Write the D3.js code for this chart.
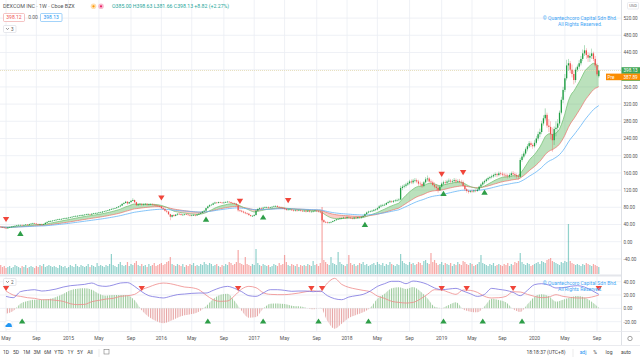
<!DOCTYPE html>
<html><head><meta charset="utf-8">
<script src="https://cdn.jsdelivr.net/npm/d3@7"></script>
<style>html,body{margin:0;padding:0;background:#fff;overflow:hidden}svg{display:block;font-family:Roboto,"Open Sans",sans-serif}</style>
</head><body><svg id="c" width="640" height="360"></svg>
<script>
// ---------- DATA (weekly bars, DEXCOM INC, first bar week of 2014-04-14) ----------
const startWeek = "2014-04-14";
const open = [35,34,33,32,31,33,34,35,36,37,38,39,39,38,39,40,39,41,42,43,42,41,40,41,40,41,44,46,48,48,49,50,51,52,52,53,54,55,55,56,57,58,59,60,60,61,62,62,63,64,64,63,65,66,66,67,68,68,70,71,72,73,75,76,77,78,80,82,84,88,90,93,89,92,95,97,92,85,87,88,86,87,88,86,87,87,86,85,84,83,82,78,76,72,70,64,58,62,60,63,65,64,62,63,64,63,62,61,62,62,61,63,65,67,70,72,78,82,85,86,89,91,90,92,91,90,91,92,93,92,90,89,88,85,73,72,70,68,66,65,62,60,60,62,72,76,78,77,79,80,80,79,80,81,82,83,81,80,79,78,76,74,75,75,73,72,73,72,73,72,71,72,70,72,70,70,71,72,71,70,68,50,46,45,44,45,46,48,50,52,53,54,55,56,55,57,56,55,54,56,55,57,56,58,60,64,68,70,71,72,74,75,78,82,84,85,86,90,92,94,93,95,96,97,98,125,128,130,133,136,140,138,142,143,140,135,134,130,138,145,147,140,138,132,128,125,120,128,135,138,137,140,142,140,141,143,140,141,139,138,130,122,118,116,118,117,119,118,121,128,133,138,141,145,148,150,152,155,157,155,159,158,156,155,154,152,155,159,157,155,152,151,190,198,205,215,222,229,225,222,230,240,250,255,275,287,295,270,267,250,236,262,265,275,300,330,353,380,410,415,400,390,376,400,407,415,425,438,445,434,428,432,438,425,410,385];
const high = [36,35,34,33,34,35,36,37,38,39,40,40,40,40,41,41,42,43,44,44,43,42,42,42,42,45,47,49,50,50,51,52,53,54,54,55,56,57,57,58,59,60,61,62,62,63,64,64,65,66,65,66,67,68,68,69,70,71,72,73,74,76,78,78,79,81,83,86,89,92,95,94,93,97,101,98,93,89,90,89,89,90,89,88,89,89,88,87,86,85,83,80,78,74,71,65,63,64,64,66,67,66,64,65,66,65,64,63,64,64,64,66,68,71,74,79,84,87,88,91,93,92,93,93,92,93,94,95,94,93,92,91,90,86,75,74,72,70,68,67,63,62,64,74,78,80,80,81,82,82,82,81,83,84,85,85,83,82,81,80,78,77,77,76,75,75,75,75,75,74,74,74,74,74,72,73,74,74,73,72,70,52,48,47,46,47,49,51,53,54,56,57,58,58,59,59,58,57,58,58,58,59,59,61,66,70,72,73,74,76,77,80,85,87,88,89,92,95,97,96,97,99,100,101,130,132,134,137,140,144,145,146,148,147,144,140,138,141,150,154,150,145,142,138,134,130,130,138,142,143,144,147,146,145,148,147,145,146,144,142,133,125,121,120,121,121,122,123,130,136,141,144,148,151,153,156,158,161,160,163,163,162,160,159,158,159,163,164,161,159,157,195,204,210,219,227,234,233,229,236,246,256,263,281,294,310,300,285,280,265,268,280,285,305,337,360,390,423,425,420,412,398,405,412,422,432,447,457,450,440,438,449,442,432,415,398.63];
const low = [33,32,31,30,30,32,33,34,35,36,37,38,37,37,38,38,38,40,41,41,40,39,39,39,39,40,43,45,46,47,48,49,50,51,51,52,53,54,54,55,56,57,58,59,59,60,60,61,62,62,62,62,64,65,65,66,67,67,69,70,71,72,74,75,76,77,79,81,83,87,89,86,88,91,94,90,83,83,85,84,84,85,84,84,85,84,83,82,81,80,76,74,70,67,62,50,56,58,59,61,62,61,60,61,62,61,59,59,60,59,60,62,64,66,69,71,77,81,84,85,88,89,89,90,89,89,90,91,91,89,88,87,84,70,69,68,66,64,63,60,58,58,59,61,71,75,75,76,78,78,77,78,79,80,81,80,78,77,76,74,72,72,73,72,70,70,70,71,70,69,69,68,69,68,68,68,70,69,68,66,47,43,43,42,42,43,45,47,49,51,51,52,53,53,54,54,53,52,52,53,53,54,54,56,59,63,66,68,69,70,71,73,77,80,82,83,85,88,90,90,90,92,93,94,97,120,124,126,130,133,134,134,138,136,130,128,125,127,135,140,137,134,129,124,118,114,118,126,131,132,134,137,136,136,138,136,137,136,134,128,118,114,112,113,114,114,115,116,119,126,130,134,138,142,145,147,149,151,150,152,154,152,150,149,147,148,151,153,150,147,145,149,186,194,201,210,218,220,216,219,226,235,243,250,270,282,265,255,238,209,225,245,255,270,296,322,348,375,398,392,382,366,370,395,402,410,420,432,425,418,418,425,420,405,385,381.66];
const close = [34,33,32,31,33,34,35,36,37,38,39,39,38,39,40,39,41,42,43,42,41,40,41,40,41,44,46,48,48,49,50,51,52,52,53,54,55,55,56,57,58,59,60,60,61,62,62,63,64,64,63,65,66,66,67,68,68,70,71,72,73,75,76,77,78,80,82,84,88,90,93,89,92,95,97,92,85,87,88,86,87,88,86,87,87,86,85,84,83,82,78,76,72,70,64,58,62,60,63,65,64,62,63,64,63,62,61,62,62,61,63,65,67,70,72,78,82,85,86,89,91,90,92,91,90,91,92,93,92,90,89,88,85,73,72,70,68,66,65,62,60,60,62,72,76,78,77,79,80,80,79,80,81,82,83,81,80,79,78,76,74,75,75,73,72,73,72,73,72,71,72,70,72,70,70,71,72,71,70,68,50,46,45,44,45,46,48,50,52,53,54,55,56,55,57,56,55,54,56,55,57,56,58,60,64,68,70,71,72,74,75,78,82,84,85,86,90,92,94,93,95,96,97,98,125,128,130,133,136,140,138,142,143,140,135,134,130,138,145,147,140,138,132,128,125,120,128,135,138,137,140,142,140,141,143,140,141,139,138,130,122,118,116,118,117,119,118,121,128,133,138,141,145,148,150,152,155,157,155,159,158,156,155,154,152,155,159,157,155,152,151,190,198,205,215,222,229,225,222,230,240,250,255,275,287,295,270,267,250,236,262,265,275,300,330,353,380,410,415,400,390,376,400,407,415,425,438,445,434,428,432,438,425,410,389.31,398.13];
const volume = [9,7,8,6,7,8,6,7,9,8,7,6,8,7,9,6,7,8,7,6,8,7,9,8,10,7,8,9,8,7,8,7,6,9,8,7,8,6,7,9,8,7,10,8,7,9,8,7,8,10,7,9,8,7,11,8,9,8,7,9,8,10,20,9,8,7,10,12,9,8,9,12,8,10,9,11,13,9,8,10,8,9,7,10,8,9,11,8,9,10,11,9,10,12,13,17,10,9,8,10,9,8,10,7,9,8,10,9,11,8,9,8,10,9,12,10,9,11,10,8,9,10,8,7,9,8,10,9,12,11,9,10,12,24,11,10,9,17,10,9,8,10,9,25,11,9,8,10,9,8,9,7,8,10,9,8,11,9,10,19,12,9,8,10,9,8,10,7,9,8,9,8,10,9,8,13,9,10,8,11,67,14,12,10,9,17,11,10,9,22,12,10,9,8,10,19,11,9,10,8,9,11,10,12,9,10,8,9,10,11,9,12,10,9,11,8,10,9,12,10,9,8,10,9,20,13,11,10,9,12,10,11,9,10,12,11,9,13,14,11,10,21,12,14,11,9,10,12,9,11,10,9,11,8,10,9,12,10,9,13,12,10,9,11,10,8,9,10,12,19,11,10,9,8,10,9,11,8,9,10,9,8,10,9,11,8,10,9,12,11,13,21,12,10,9,11,10,8,9,10,11,12,10,13,12,11,14,15,16,13,12,11,10,9,12,11,13,12,50,13,11,10,9,10,9,8,10,9,11,10,9,8,10,9,8,7];
// oscillator pane: two directional lines sampled every 4th week starting at week 3
const diStart = 3, diStep = 4;
const diPlus = [18,16,25,27,28,26,27,29,32,34,35,36,38,34,33,35,38,38.6,33,25,19,17,15.6,18,20.6,21.5,22.5,23,23,27,31,33,30,25,19,18,23,28,28,27,25.6,26,26,25,26,19,14.5,13,17,19,21,26,33,37,40.6,40.6,37,41,39.5,36,30.6,28,29,30,26,22,18,21,30,28.5,27,24,19,27,35.6,37,35,30.6,31,33,34,32,27,21];
const diMinus = [26,20,18,16,15,13,13,12,10.5,7,5.6,6,10,12,14,15,18,19,21,28,32,36,38,37,34.5,32,31,28,20,13,10.5,11,19,29,33,31,23.5,21,20.6,20.6,21.5,23,25,26.5,25,38,45,36,31.5,29,27,25,18.5,15,10.5,9,8,9,14,21,28,27.5,24,21,27.5,27,24,18,15.6,16,18,25,24.5,21,18,16,17,20.5,18,16.5,15.6,15.6,17,20];
// signals (week start dates)
const priceSell = ["2014-05-05","2016-01-04","2016-11-07","2017-05-15","2019-01-07","2019-04-01"];
const priceBuy  = ["2014-06-30","2016-06-27","2017-02-06","2018-03-12","2019-01-14","2019-06-24"];
const oscSell = ["2014-05-05","2015-10-19","2016-10-31","2017-08-14","2017-09-25","2019-01-07","2019-04-15","2019-10-14","2020-09-14"];
const oscBuy  = ["2014-07-07","2016-07-04","2017-02-06","2017-09-11","2018-03-26","2019-01-14","2019-06-17","2019-11-18"];
// axes
const priceTicks = [-40,0,40,80,120,160,200,240,280,320,360,400,440,480,520];
const oscTicks = [-20,0,20,40];
const timeTickDates = ["2014-05-05","2014-09-01","2015-01-05","2015-05-04","2015-09-07","2016-01-04","2016-05-02","2016-09-05","2017-01-02","2017-05-01","2017-09-04","2018-01-01","2018-04-30","2018-09-03","2019-01-07","2019-05-06","2019-09-02","2020-01-06","2020-05-04","2020-09-07"];
const timeTickLabels = ["May","Sep","2015","May","Sep","2016","May","Sep","2017","May","Sep","2018","May","Sep","2019","May","Sep","2020","May","Sep"];
const rangeButtons = ["1D","5D","1M","3M","6M","YTD","1Y","5Y","All"];
const lastClose = 398.13, preMarket = 387.89;

// ---------- DRAW ----------
const svg = d3.select("#c");
const defs = svg.append("defs");
const parse = d3.utcParse("%Y-%m-%d");
const t0 = parse(startWeek);
const dates = close.map((_, i) => d3.utcWeek.offset(t0, i));
const plotR = 621;
const x = d3.scaleUtc().domain([t0, dates[dates.length - 1]]).range([0.7, 598.8]);
const y = d3.scaleLinear().domain([0, 520]).range([241.7, 18.1]);
const yV = d3.scaleLinear().domain([0, d3.max(volume)]).range([274, 207]);
const yO = d3.scaleLinear().domain([-20, 40]).range([321.7, 281.7]);
const FONT = 5;

// grids
const grid = svg.append("g");
grid.selectAll("line.v").data(timeTickDates).join("line")
  .attr("x1", d => x(parse(d))).attr("x2", d => x(parse(d)))
  .attr("y1", 0).attr("y2", 331).attr("stroke", "#ebeef4").attr("stroke-width", 0.8);
grid.selectAll("line.h").data(priceTicks).join("line")
  .attr("x1", 0).attr("x2", plotR).attr("y1", d => y(d)).attr("y2", d => y(d))
  .attr("stroke", "#ebeef4").attr("stroke-width", 0.8);
grid.selectAll("line.o").data(oscTicks).join("line")
  .attr("x1", 0).attr("x2", plotR).attr("y1", d => yO(d)).attr("y2", d => yO(d))
  .attr("stroke", "#ebeef4").attr("stroke-width", 0.8);

// volume
svg.append("g").selectAll("rect").data(volume).join("rect")
  .attr("x", (d, i) => x(dates[i]) - 0.6).attr("width", 1.2)
  .attr("y", d => yV(d)).attr("height", d => yV(0) - yV(d))
  .attr("fill", (d, i) => close[i] >= open[i] ? "rgba(38,166,154,0.5)" : "rgba(239,83,80,0.5)");

// EMAs
function ema(src, n) { const a = 2 / (n + 1); let p = src[0]; return src.map((v, i) => (p = i ? a * v + (1 - a) * p : v)); }
const fast = ema(close, 13), slow = ema(close, 34), base = ema(close, 55);
const idx = d3.range(close.length);
defs.append("clipPath").attr("id", "above").append("path")
  .attr("d", d3.area().x(i => x(dates[i])).y0(0).y1(i => y(slow[i]))(idx));
defs.append("clipPath").attr("id", "below").append("path")
  .attr("d", d3.area().x(i => x(dates[i])).y0(i => y(slow[i])).y1(275)(idx));
const band = d3.area().x(i => x(dates[i])).y0(i => y(slow[i])).y1(i => y(fast[i]));
svg.append("path").attr("d", band(idx)).attr("fill", "rgba(76,175,80,0.38)").attr("clip-path", "url(#above)");
svg.append("path").attr("d", band(idx)).attr("fill", "rgba(244,67,54,0.28)").attr("clip-path", "url(#below)");
const ln = arr => d3.line().x(i => x(dates[i])).y(i => y(arr[i]));
svg.append("path").attr("d", ln(slow)(idx)).attr("fill", "none").attr("stroke", "#e57368").attr("stroke-width", 0.7);
svg.append("path").attr("d", ln(fast)(idx)).attr("fill", "none").attr("stroke", "#6cbf6c").attr("stroke-width", 0.7);
svg.append("path").attr("d", ln(base)(idx)).attr("fill", "none").attr("stroke", "#64b5f6").attr("stroke-width", 0.8);

// last price line
svg.append("line").attr("x1", 0).attr("x2", plotR).attr("y1", y(lastClose)).attr("y2", y(lastClose))
  .attr("stroke", "#e3d9b0").attr("stroke-width", 0.8).attr("stroke-dasharray", "1,1");

// candles
const up = "#1f9e43", dn = "#ef4f4c";
const cg = svg.append("g");
cg.selectAll("line").data(idx).join("line")
  .attr("x1", i => x(dates[i])).attr("x2", i => x(dates[i]))
  .attr("y1", i => y(high[i])).attr("y2", i => y(low[i]))
  .attr("stroke", i => close[i] >= open[i] ? up : dn).attr("stroke-width", 0.5).attr("opacity", 0.7);
cg.selectAll("rect").data(idx).join("rect")
  .attr("x", i => x(dates[i]) - 0.65).attr("width", 1.3)
  .attr("y", i => y(Math.max(open[i], close[i])))
  .attr("height", i => Math.max(0.6, Math.abs(y(open[i]) - y(close[i]))))
  .attr("fill", i => close[i] >= open[i] ? up : dn);

// signal arrows
const tri = (cx, cy, down, col) => {
  const w = 3.2, h = 5.2;
  const p = down ? `M${cx - w},${cy - h / 2}L${cx + w},${cy - h / 2}L${cx},${cy + h / 2}Z`
                 : `M${cx - w},${cy + h / 2}L${cx + w},${cy + h / 2}L${cx},${cy - h / 2}Z`;
  return svg.append("path").attr("d", p).attr("fill", col);
};
const iOf = s => Math.round((parse(s) - t0) / (7 * 864e5));
priceSell.forEach(s => { const i = iOf(s); tri(x(dates[i]), y(high[i]) - 8, true, "#f0453a"); });
priceBuy.forEach(s => { const i = iOf(s); tri(x(dates[i]), y(low[i]) + 8, false, "#2e9e48"); });

// separator between panes
svg.append("rect").attr("x", 0).attr("y", 274.5).attr("width", 640).attr("height", 2).attr("fill", "#e4e6eb");

// oscillator pane
const ks = d3.range(diPlus.length);
const xo = k => x(dates[diStart + diStep * k]);
const pat = (id, col) => {
  const p = defs.append("pattern").attr("id", id).attr("patternUnits", "userSpaceOnUse")
    .attr("width", x(dates[1]) - x(dates[0])).attr("height", 10);
  p.append("rect").attr("x", 0).attr("y", 0).attr("width", 0.8).attr("height", 10).attr("fill", col);
};
pat("hg", "#8fc48f"); pat("hr", "#e59a9a");
defs.append("clipPath").attr("id", "pos").append("rect").attr("x", 0).attr("y", 276).attr("width", plotR).attr("height", yO(0) - 276);
defs.append("clipPath").attr("id", "neg").append("rect").attr("x", 0).attr("y", yO(0)).attr("width", plotR).attr("height", 331 - yO(0));
const hist = d3.area().x(xo).y0(yO(0)).y1(k => yO(diPlus[k] - diMinus[k])).curve(d3.curveMonotoneX);
svg.append("path").attr("d", hist(ks)).attr("fill", "url(#hg)").attr("clip-path", "url(#pos)");
svg.append("path").attr("d", hist(ks)).attr("fill", "url(#hr)").attr("clip-path", "url(#neg)");
const lo = arr => d3.line().x(xo).y(k => yO(arr[k])).curve(d3.curveMonotoneX);
svg.append("path").attr("d", lo(diMinus)(ks)).attr("fill", "none").attr("stroke", "#ef8a8a").attr("stroke-width", 0.8);
svg.append("path").attr("d", lo(diPlus)(ks)).attr("fill", "none").attr("stroke", "#7b74e0").attr("stroke-width", 0.8);
oscSell.forEach(s => tri(x(dates[Math.min(iOf(s), dates.length - 1)]), 288.5, true, "#f0453a"));
oscBuy.forEach(s => tri(x(dates[iOf(s)]), 321, false, "#2e9e48"));

// watermark texts
const wm = (yy, t) => svg.append("text").attr("x", 580).attr("y", yy).attr("text-anchor", "middle")
  .attr("font-size", FONT).attr("fill", "#42a5f5").text(t);
wm(20, "© Quantechcoro Capital Sdn Bhd.");
wm(26, "All Rights Reserved.");
wm(285, "© Quantechcoro Capital Sdn Bhd.");
wm(291, "All Rights Reserved.");

// right axis
svg.append("rect").attr("x", plotR).attr("y", 0).attr("width", 640 - plotR).attr("height", 345).attr("fill", "#fff");
svg.append("line").attr("x1", plotR + 0.5).attr("x2", plotR + 0.5).attr("y1", 0).attr("y2", 345).attr("stroke", "#d6d9e0").attr("stroke-width", 0.8);
const boxesY = [y(lastClose) - 3.5, y(preMarket) + 3.8];
svg.append("g").selectAll("text").data(priceTicks.filter(p => y(p) < boxesY[0] - 2 || y(p) > boxesY[1] + 3)).join("text")
  .attr("x", 623.5).attr("y", p => y(p) + 1.8).attr("font-size", 4.6).attr("fill", "#555").text(p => p.toFixed(2));
svg.append("g").selectAll("text").data(oscTicks).join("text")
  .attr("x", 623.5).attr("y", v => yO(v) + 1.8).attr("font-size", 4.6).attr("fill", "#555").text(v => v.toFixed(2));
// price labels
const tag = (x0, yc, w, col, txt, tx) => {
  svg.append("rect").attr("x", x0).attr("y", yc - 3.3).attr("width", w).attr("height", 6.6).attr("fill", col);
  svg.append("text").attr("x", tx).attr("y", yc + 1.7).attr("font-size", 4.6).attr("fill", "#fff").text(txt);
};
tag(621.5, y(lastClose), 18.5, "#3fa554", lastClose.toFixed(2), 623.5);
tag(621.5, y(lastClose) + 7, 18.5, "#3fa554", "2d 16h", 623.5);
tag(606, y(preMarket) + 2, 34, "#fb8c00", "Pre", 607.5);
svg.append("text").attr("x", 623.5).attr("y", y(preMarket) + 3.7).attr("font-size", 4.6).attr("fill", "#fff").text(preMarket.toFixed(2));
svg.append("rect").attr("x", 627.5).attr("y", 2.5).attr("width", 11).attr("height", 6.5).attr("rx", 1).attr("fill", "#fff").attr("stroke", "#d6d9e0").attr("stroke-width", 0.5);
svg.append("text").attr("x", 633).attr("y", 7.3).attr("text-anchor", "middle").attr("font-size", 4).attr("fill", "#666").text("USD");

// time axis
svg.append("line").attr("x1", 0).attr("x2", 640).attr("y1", 331.5).attr("y2", 331.5).attr("stroke", "#e4e6eb").attr("stroke-width", 0.8);
svg.append("g").selectAll("text").data(timeTickDates).join("text")
  .attr("x", d => x(parse(d))).attr("y", 339.8).attr("text-anchor", "middle")
  .attr("font-size", FONT).attr("fill", "#555").text((d, i) => timeTickLabels[i]);
svg.append("circle").attr("cx", 630).attr("cy", 338.5).attr("r", 2.2).attr("fill", "none").attr("stroke", "#666").attr("stroke-width", 0.6);
svg.append("line").attr("x1", 0).attr("x2", 640).attr("y1", 345.5).attr("y2", 345.5).attr("stroke", "#e4e6eb").attr("stroke-width", 0.8);

// bottom toolbar
const bx = [6, 16, 26.5, 37, 47.5, 59, 70.5, 80, 90];
svg.append("g").selectAll("text").data(rangeButtons).join("text")
  .attr("x", (d, i) => bx[i]).attr("y", 354).attr("text-anchor", "middle").attr("font-size", FONT).attr("fill", "#444").text(d => d);
svg.append("line").attr("x1", 99).attr("x2", 99).attr("y1", 349).attr("y2", 357).attr("stroke", "#ddd").attr("stroke-width", 0.6);
svg.append("rect").attr("x", 104).attr("y", 349.5).attr("width", 5).attr("height", 4.5).attr("fill", "none").attr("stroke", "#666").attr("stroke-width", 0.5);
svg.append("text").attr("x", 546).attr("y", 354).attr("text-anchor", "middle").attr("font-size", FONT).attr("fill", "#444").text("18:18:37 (UTC+8)");
svg.append("line").attr("x1", 573).attr("x2", 573).attr("y1", 349).attr("y2", 357).attr("stroke", "#ddd").attr("stroke-width", 0.6);
[["adj", 583, "#2196f3"], ["%", 595, "#444"], ["log", 609, "#444"], ["auto", 626, "#444"]].forEach(d =>
  svg.append("text").attr("x", d[1]).attr("y", 354).attr("text-anchor", "middle").attr("font-size", FONT).attr("fill", d[2]).text(d[0]));

// header
svg.append("text").attr("x", 3).attr("y", 8).attr("font-size", 5.4).attr("fill", "#555").text("DEXCOM INC · 1W · Cboe BZX");
svg.append("circle").attr("cx", 93.5).attr("cy", 6.3).attr("r", 2.8).attr("fill", "#ffe0b2");
svg.append("circle").attr("cx", 93.5).attr("cy", 6.3).attr("r", 1.1).attr("fill", "#ff9800");
svg.append("circle").attr("cx", 101).attr("cy", 6.3).attr("r", 2.8).attr("fill", "#f8bbd0");
svg.append("circle").attr("cx", 101).attr("cy", 6.3).attr("r", 1.1).attr("fill", "#e91e63");
svg.append("text").attr("x", 112).attr("y", 8).attr("font-size", 5.2).attr("fill", "#26a69a")
  .text("O385.00 H398.63 L381.66 C398.13 +8.82 (+2.27%)");
svg.append("rect").attr("x", 3.5).attr("y", 13.5).attr("width", 21).attr("height", 8).attr("rx", 1).attr("fill", "#fff").attr("stroke", "#ef9a9a").attr("stroke-width", 0.6);
svg.append("text").attr("x", 14).attr("y", 19.3).attr("text-anchor", "middle").attr("font-size", 5).attr("fill", "#ef5350").text("398.12");
svg.append("text").attr("x", 33).attr("y", 19.3).attr("text-anchor", "middle").attr("font-size", 5).attr("fill", "#666").text("0.00");
svg.append("rect").attr("x", 40.5).attr("y", 13.5).attr("width", 21.5).attr("height", 8).attr("rx", 1).attr("fill", "#fff").attr("stroke", "#64b5f6").attr("stroke-width", 0.6);
svg.append("text").attr("x", 51.2).attr("y", 19.3).attr("text-anchor", "middle").attr("font-size", 5).attr("fill", "#2196f3").text("398.13");
svg.append("rect").attr("x", 3.5).attr("y", 25.5).attr("width", 12.5).attr("height", 7).attr("rx", 1).attr("fill", "#fff").attr("stroke", "#d6d9e0").attr("stroke-width", 0.6);
svg.append("path").attr("d", "M6,28 L7.5,29.6 L9,28").attr("fill", "none").attr("stroke", "#555").attr("stroke-width", 0.6);
svg.append("text").attr("x", 11).attr("y", 30.8).attr("font-size", 4.6).attr("fill", "#555").text("3");
svg.append("rect").attr("x", 3.5).attr("y", 278.5).attr("width", 12.5).attr("height", 7).attr("rx", 1).attr("fill", "#fff").attr("stroke", "#d6d9e0").attr("stroke-width", 0.6);
svg.append("path").attr("d", "M6,281 L7.5,282.6 L9,281").attr("fill", "none").attr("stroke", "#555").attr("stroke-width", 0.6);
svg.append("text").attr("x", 11).attr("y", 283.8).attr("font-size", 4.6).attr("fill", "#555").text("2");
// logo badge
svg.append("circle").attr("cx", 8.5).attr("cy", 325).attr("r", 4.5).attr("fill", "#fff").attr("stroke", "#e3e6ec").attr("stroke-width", 0.5);
svg.append("path").attr("d", "M5.5,327 Q5,324.5 7,324.5 Q7.8,322.5 9.8,323.3 Q11.8,323.5 11.6,325.3 Q12.6,326.2 11.6,327 Z").attr("fill", "#2196f3");
</script></body></html>
